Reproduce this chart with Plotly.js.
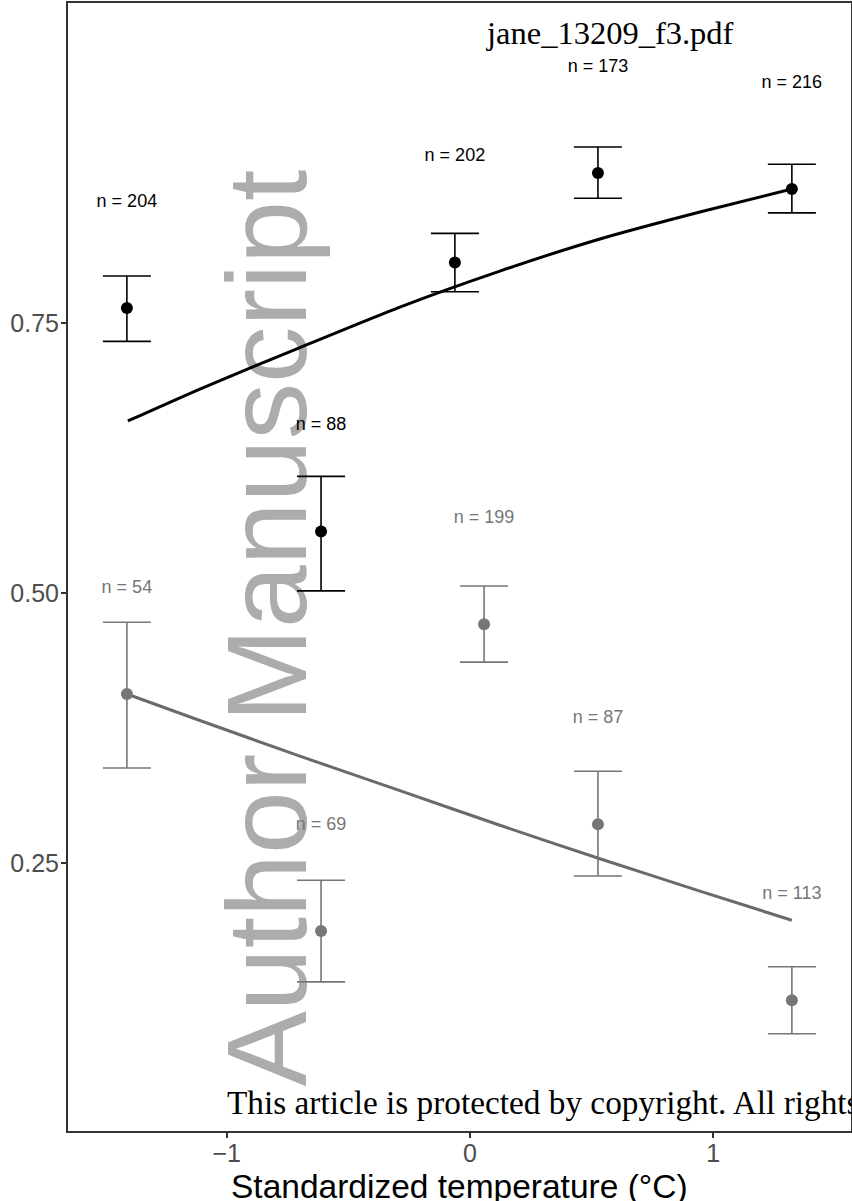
<!DOCTYPE html>
<html>
<head>
<meta charset="utf-8">
<script src="https://cdn.plot.ly/plotly-3.0.1.min.js"></script>
<style>html,body{margin:0;padding:0;background:#fff;}#chart{width:852px;height:1201px;}</style>
</head>
<body>
<div id="chart"></div>
<script>
// ---- data ----
const blackX = [-1.410, -0.612, -0.062, 0.526, 1.323];
const blackY = [0.764, 0.557, 0.806, 0.889, 0.874];
const blackUpper = [0.7935, 0.608, 0.833, 0.913, 0.897];
const blackLower = [0.733, 0.502, 0.779, 0.8655, 0.852];
const blackN = [204, 88, 202, 173, 216];

const grayX = [-1.410, -0.612, 0.058, 0.526, 1.323];
const grayY = [0.4065, 0.187, 0.471, 0.286, 0.123];
const grayUpper = [0.473, 0.234, 0.5065, 0.335, 0.154];
const grayLower = [0.338, 0.140, 0.436, 0.238, 0.092];
const grayN = [54, 69, 199, 87, 113];

const blackCurveX = [-1.406, -1.110, -0.699, -0.288, 0.123, 0.534, 0.945, 1.323];
const blackCurveY = [0.6593, 0.6889, 0.7273, 0.7648, 0.7981, 0.8278, 0.8528, 0.8741];
const grayCurveX = [-1.410, -1.110, -0.699, -0.288, 0.123, 0.534, 0.945, 1.323];
const grayCurveY = [0.4065, 0.382, 0.349, 0.317, 0.285, 0.254, 0.224, 0.197];

const xTicks = [-1, 0, 1];
const yTicks = [0.25, 0.50, 0.75];

const xTitle = 'Standardized temperature (°C)';
const fileLabel = 'jane_13209_f3.pdf';
const copyrightText = 'This article is protected by copyright. All rights';
const watermark = 'Author Manuscript';

// ---- styles ----
const BLACK = '#000000';
const GRAY = '#767676';
const LABEL_OFFSET = 0.098;
const SANS = 'Liberation Sans, Arial, Helvetica, sans-serif';
const SERIF = 'Liberation Serif, Times New Roman, serif';

function diff(a, b) { return a.map((v, i) => v - b[i]); }

function pointTrace(x, y, up, lo, color) {
  return {
    type: 'scatter', mode: 'markers', x: x, y: y,
    marker: {color: color, size: 12},
    error_y: {type: 'data', symmetric: false, array: diff(up, y), arrayminus: diff(y, lo),
              color: color, thickness: 1.6, width: 24},
    hoverinfo: 'skip', showlegend: false
  };
}
function labelTrace(x, y, n, color) {
  return {
    type: 'scatter', mode: 'text', x: x, y: y.map(v => v + LABEL_OFFSET),
    text: n.map(v => 'n = ' + v), textposition: 'middle center',
    textfont: {family: SANS, size: 18, color: color},
    hoverinfo: 'skip', showlegend: false
  };
}

const traces = [
  {type: 'scatter', mode: 'lines', x: grayCurveX, y: grayCurveY, line: {color: '#6a6a6a', width: 3, shape: 'spline', smoothing: 0.6},
   hoverinfo: 'skip', showlegend: false},
  {type: 'scatter', mode: 'lines', x: blackCurveX, y: blackCurveY, line: {color: BLACK, width: 3, shape: 'spline', smoothing: 0.6},
   hoverinfo: 'skip', showlegend: false},
  pointTrace(grayX, grayY, grayUpper, grayLower, GRAY),
  pointTrace(blackX, blackY, blackUpper, blackLower, BLACK),
  labelTrace(grayX, grayY, grayN, GRAY),
  labelTrace(blackX, blackY, blackN, BLACK)
];

const layout = {
  width: 852, height: 1201,
  margin: {l: 68, r: 1, t: 3, b: 70},
  paper_bgcolor: '#ffffff', plot_bgcolor: '#ffffff',
  showlegend: false,
  xaxis: {
    range: [-1.652, 1.566], tickvals: xTicks, ticktext: xTicks.map(v => v < 0 ? '\u2212' + Math.abs(v) : String(v)),
    showgrid: false, zeroline: false, showline: true, mirror: true,
    linecolor: '#333333', linewidth: 2, ticks: 'outside', ticklen: 5, tickwidth: 2, tickcolor: '#333333',
    tickfont: {family: SANS, size: 25, color: '#4d4d4d'}, ticklabelstandoff: -6
  },
  yaxis: {
    range: [0.0019, 1.0463], tickvals: yTicks, ticktext: yTicks.map(v => v.toFixed(2)),
    showgrid: false, zeroline: false, showline: true, mirror: true,
    linecolor: '#333333', linewidth: 2, ticks: 'outside', ticklen: 5, tickwidth: 2, tickcolor: '#333333',
    tickfont: {family: SANS, size: 25, color: '#4d4d4d'}, ticklabelstandoff: -3
  },
  annotations: [
    {text: watermark, xref: 'paper', yref: 'paper', x: 0.2542, y: 0.4455,
     xanchor: 'center', yanchor: 'middle', textangle: -90, showarrow: false,
     font: {family: SANS, size: 113, color: '#acacac'}},
    {text: fileLabel, xref: 'paper', yref: 'paper', x: 0.692, y: 0.9734,
     xanchor: 'center', yanchor: 'middle', showarrow: false,
     font: {family: SERIF, size: 32.5, color: '#000000'}},
    {text: copyrightText, xref: 'paper', yref: 'paper', x: 0.2005, y: 0.0257,
     xanchor: 'left', yanchor: 'middle', showarrow: false,
     font: {family: SERIF, size: 33.3, color: '#000000'}},
    {text: xTitle, xref: 'paper', yref: 'paper', x: 0.5006, y: -0.0488,
     xanchor: 'center', yanchor: 'middle', showarrow: false,
     font: {family: SANS, size: 33.5, color: '#000000'}}
  ]
};

Plotly.newPlot('chart', traces, layout, {displayModeBar: false, staticPlot: true}).then(function (gd) {
  try {
    // put the watermark beneath the data marks
    const below = gd.querySelector('.main-svg .layer-below');
    const anns = gd.querySelectorAll('g.annotation');
    anns.forEach(function (a) {
      if (a.textContent.indexOf(watermark) >= 0 && below) below.insertBefore(a, below.firstChild);
    });
  } catch (e) {}
});
</script>
</body>
</html>
